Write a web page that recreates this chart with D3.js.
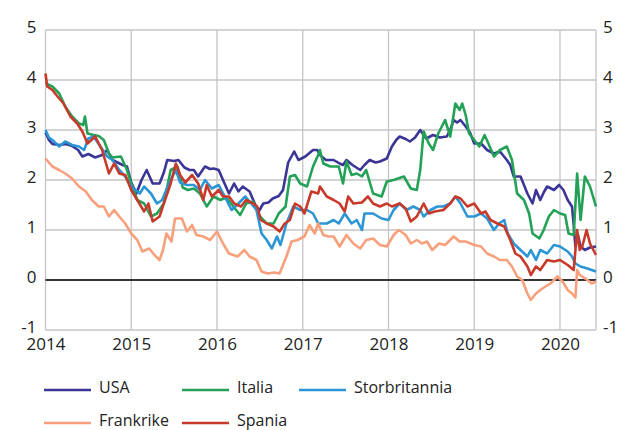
<!DOCTYPE html>
<html>
<head>
<meta charset="utf-8">
<script src="https://cdn.jsdelivr.net/npm/d3@7"></script>
<style>
  body { margin: 0; background: #fff; }
  svg { font-family: "Open Sans", sans-serif; }
  .tick text { fill: #222; font-size: 17px; }
  .legend text { fill: #222; font-size: 16px; }
</style>
</head>
<body>
<svg id="chart" width="617" height="430"></svg>
<script>

// years on x, percent on y
var yTicks = [-1, 0, 1, 2, 3, 4, 5];
var xTicks = [2014, 2015, 2016, 2017, 2018, 2019, 2020];
var names = ["USA", "Italia", "Storbritannia", "Frankrike", "Spania"];
var colors = ["#3a3596", "#23a257", "#2b95d5", "#f7a07b", "#c8392a"];

var usa = [[2014.00,2.95],[2014.04,2.8],[2014.08,2.72],[2014.16,2.7],[2014.24,2.72],[2014.31,2.68],[2014.38,2.6],[2014.43,2.47],[2014.5,2.52],[2014.58,2.45],[2014.66,2.5],[2014.72,2.6],[2014.78,2.4],[2014.84,2.35],[2014.9,2.3],[2014.95,2.27],[2015.0,1.95],[2015.06,1.73],[2015.12,2.0],[2015.18,2.2],[2015.25,1.93],[2015.33,1.93],[2015.38,2.15],[2015.42,2.4],[2015.5,2.38],[2015.55,2.4],[2015.62,2.25],[2015.68,2.2],[2015.73,2.2],[2015.78,2.07],[2015.86,2.27],[2015.92,2.22],[2015.96,2.23],[2016.02,2.2],[2016.07,2.0],[2016.14,1.73],[2016.2,1.93],[2016.25,1.77],[2016.3,1.87],[2016.38,1.77],[2016.44,1.53],[2016.48,1.35],[2016.54,1.53],[2016.6,1.55],[2016.65,1.63],[2016.72,1.68],[2016.77,1.8],[2016.83,2.35],[2016.9,2.57],[2016.95,2.4],[2017.03,2.47],[2017.12,2.6],[2017.17,2.6],[2017.2,2.5],[2017.27,2.4],[2017.36,2.4],[2017.43,2.33],[2017.47,2.3],[2017.51,2.4],[2017.58,2.3],[2017.67,2.2],[2017.72,2.3],[2017.78,2.4],[2017.85,2.35],[2017.9,2.37],[2017.98,2.43],[2018.04,2.67],[2018.09,2.8],[2018.13,2.87],[2018.2,2.82],[2018.25,2.77],[2018.31,2.85],[2018.37,3.0],[2018.44,2.83],[2018.52,2.9],[2018.6,2.85],[2018.68,2.87],[2018.72,3.0],[2018.76,3.2],[2018.8,3.15],[2018.84,3.2],[2018.9,3.07],[2018.95,2.95],[2019.0,2.73],[2019.08,2.73],[2019.15,2.6],[2019.23,2.53],[2019.3,2.57],[2019.38,2.4],[2019.42,2.3],[2019.46,2.07],[2019.54,2.07],[2019.58,1.9],[2019.62,1.73],[2019.68,1.53],[2019.72,1.8],[2019.77,1.6],[2019.81,1.75],[2019.85,1.87],[2019.93,1.8],[2019.99,1.9],[2020.04,1.8],[2020.09,1.6],[2020.14,1.47],[2020.16,1.1],[2020.18,0.67],[2020.21,0.9],[2020.24,0.67],[2020.29,0.6],[2020.35,0.65],[2020.42,0.67]];

var italia = [[2014.0,3.95],[2014.04,3.9],[2014.08,3.87],[2014.16,3.73],[2014.23,3.47],[2014.31,3.27],[2014.39,3.13],[2014.44,3.1],[2014.46,3.27],[2014.49,2.93],[2014.56,2.9],[2014.62,2.88],[2014.68,2.8],[2014.74,2.53],[2014.78,2.45],[2014.88,2.47],[2014.95,2.2],[2015.0,1.93],[2015.07,1.6],[2015.15,1.53],[2015.23,1.27],[2015.3,1.33],[2015.38,1.53],[2015.46,2.2],[2015.54,2.27],[2015.6,1.85],[2015.66,1.8],[2015.73,1.83],[2015.8,1.73],[2015.88,1.47],[2015.96,1.67],[2016.04,1.6],[2016.11,1.65],[2016.19,1.47],[2016.27,1.3],[2016.34,1.53],[2016.42,1.57],[2016.5,1.27],[2016.58,1.13],[2016.66,1.13],[2016.72,1.33],[2016.8,1.47],[2016.85,2.07],[2016.91,2.1],[2016.97,1.93],[2017.05,1.87],[2017.12,2.27],[2017.18,2.5],[2017.2,2.6],[2017.24,2.33],[2017.32,2.27],[2017.42,2.27],[2017.47,1.93],[2017.51,2.37],[2017.57,2.1],[2017.63,2.13],[2017.69,2.07],[2017.74,2.2],[2017.82,1.73],[2017.92,1.67],[2017.98,1.97],[2018.06,2.0],[2018.18,2.07],[2018.26,1.83],[2018.33,1.8],[2018.37,2.2],[2018.41,2.97],[2018.47,2.73],[2018.52,2.6],[2018.58,2.93],[2018.66,3.2],[2018.72,2.87],[2018.78,3.53],[2018.83,3.4],[2018.86,3.53],[2018.9,3.3],[2018.94,2.93],[2019.0,2.8],[2019.06,2.67],[2019.12,2.9],[2019.16,2.75],[2019.23,2.47],[2019.3,2.6],[2019.38,2.67],[2019.44,2.4],[2019.5,1.73],[2019.58,1.6],[2019.64,1.33],[2019.68,0.93],[2019.76,0.83],[2019.81,1.0],[2019.87,1.27],[2019.93,1.4],[2020.0,1.33],[2020.06,1.3],[2020.1,0.93],[2020.16,0.9],[2020.2,2.13],[2020.24,1.2],[2020.29,2.07],[2020.35,1.87],[2020.42,1.47]];

var storbritannia = [[2014.0,3.0],[2014.04,2.85],[2014.08,2.8],[2014.16,2.67],[2014.23,2.77],[2014.31,2.7],[2014.39,2.67],[2014.45,2.6],[2014.5,2.83],[2014.56,2.87],[2014.64,2.67],[2014.72,2.47],[2014.78,2.4],[2014.86,2.2],[2014.93,2.07],[2015.0,1.87],[2015.1,1.73],[2015.15,1.87],[2015.23,1.73],[2015.3,1.53],[2015.36,1.6],[2015.44,1.93],[2015.52,2.2],[2015.57,1.95],[2015.65,1.9],[2015.73,1.9],[2015.8,1.8],[2015.86,2.0],[2015.94,1.83],[2016.02,1.9],[2016.09,1.67],[2016.17,1.4],[2016.25,1.53],[2016.33,1.67],[2016.4,1.53],[2016.46,1.4],[2016.52,0.93],[2016.58,0.8],[2016.64,0.63],[2016.7,0.87],[2016.74,0.7],[2016.81,1.13],[2016.89,1.47],[2016.97,1.4],[2017.05,1.4],[2017.12,1.33],[2017.18,1.13],[2017.28,1.13],[2017.36,1.2],[2017.42,1.13],[2017.49,1.33],[2017.57,1.13],[2017.63,1.2],[2017.69,1.0],[2017.72,1.33],[2017.82,1.33],[2017.92,1.23],[2018.0,1.2],[2018.06,1.4],[2018.13,1.53],[2018.21,1.4],[2018.29,1.47],[2018.37,1.4],[2018.41,1.27],[2018.49,1.4],[2018.57,1.47],[2018.64,1.47],[2018.72,1.53],[2018.78,1.67],[2018.84,1.53],[2018.92,1.27],[2019.0,1.27],[2019.08,1.33],[2019.15,1.23],[2019.23,1.0],[2019.29,1.13],[2019.35,1.2],[2019.39,0.93],[2019.46,0.73],[2019.54,0.6],[2019.62,0.47],[2019.66,0.6],[2019.72,0.4],[2019.77,0.6],[2019.85,0.53],[2019.93,0.7],[2020.0,0.67],[2020.09,0.57],[2020.14,0.47],[2020.18,0.33],[2020.24,0.27],[2020.32,0.23],[2020.42,0.17]];

var frankrike = [[2014.0,2.43],[2014.08,2.27],[2014.16,2.2],[2014.23,2.13],[2014.31,2.03],[2014.39,1.87],[2014.47,1.77],[2014.54,1.6],[2014.62,1.47],[2014.68,1.47],[2014.74,1.27],[2014.8,1.4],[2014.86,1.27],[2014.93,1.13],[2015.0,0.93],[2015.07,0.8],[2015.13,0.57],[2015.21,0.63],[2015.27,0.5],[2015.33,0.4],[2015.37,0.6],[2015.41,0.93],[2015.47,0.77],[2015.51,1.23],[2015.59,1.23],[2015.65,0.97],[2015.71,1.1],[2015.76,0.9],[2015.84,0.87],[2015.92,0.8],[2016.0,0.97],[2016.07,0.73],[2016.14,0.53],[2016.24,0.47],[2016.32,0.6],[2016.38,0.47],[2016.46,0.4],[2016.52,0.17],[2016.59,0.13],[2016.67,0.15],[2016.73,0.13],[2016.81,0.47],[2016.87,0.77],[2016.94,0.8],[2017.02,0.87],[2017.08,1.1],[2017.14,0.93],[2017.18,1.13],[2017.24,0.9],[2017.3,0.87],[2017.36,0.87],[2017.43,0.67],[2017.51,0.9],[2017.59,0.73],[2017.67,0.63],[2017.74,0.8],[2017.82,0.83],[2017.9,0.7],[2017.98,0.67],[2018.06,0.9],[2018.12,1.0],[2018.2,0.9],[2018.26,0.73],[2018.33,0.8],[2018.39,0.73],[2018.45,0.77],[2018.51,0.6],[2018.59,0.73],[2018.66,0.7],[2018.76,0.87],[2018.83,0.77],[2018.9,0.77],[2019.0,0.7],[2019.08,0.67],[2019.15,0.53],[2019.23,0.47],[2019.3,0.4],[2019.38,0.4],[2019.44,0.27],[2019.5,0.07],[2019.56,0.0],[2019.62,-0.27],[2019.66,-0.4],[2019.72,-0.27],[2019.77,-0.2],[2019.83,-0.13],[2019.89,-0.07],[2019.97,0.07],[2020.03,-0.03],[2020.09,-0.2],[2020.14,-0.27],[2020.18,-0.35],[2020.2,0.2],[2020.23,0.1],[2020.26,0.07],[2020.32,0.0],[2020.37,-0.07],[2020.42,-0.03]];

var spania = [[2014.0,4.13],[2014.02,3.87],[2014.08,3.8],[2014.14,3.67],[2014.21,3.53],[2014.29,3.27],[2014.37,3.13],[2014.43,2.97],[2014.49,2.73],[2014.58,2.87],[2014.66,2.6],[2014.74,2.13],[2014.8,2.33],[2014.86,2.13],[2014.93,2.1],[2015.0,1.8],[2015.07,1.6],[2015.15,1.37],[2015.2,1.53],[2015.25,1.17],[2015.33,1.27],[2015.38,1.53],[2015.46,1.93],[2015.52,2.33],[2015.57,2.1],[2015.63,1.95],[2015.71,2.1],[2015.78,1.93],[2015.84,1.6],[2015.88,1.9],[2015.94,1.67],[2016.02,1.8],[2016.07,1.67],[2016.14,1.67],[2016.2,1.53],[2016.28,1.47],[2016.34,1.6],[2016.42,1.53],[2016.47,1.47],[2016.51,1.2],[2016.58,1.13],[2016.66,1.07],[2016.73,0.97],[2016.79,1.13],[2016.85,1.2],[2016.91,1.53],[2016.97,1.47],[2017.02,1.33],[2017.1,1.77],[2017.18,1.73],[2017.2,1.87],[2017.28,1.67],[2017.36,1.6],[2017.43,1.53],[2017.49,1.37],[2017.53,1.67],[2017.59,1.53],[2017.69,1.55],[2017.76,1.67],[2017.82,1.53],[2017.9,1.47],[2017.98,1.53],[2018.04,1.47],[2018.13,1.53],[2018.2,1.43],[2018.26,1.17],[2018.33,1.27],[2018.41,1.53],[2018.47,1.33],[2018.54,1.37],[2018.64,1.4],[2018.72,1.53],[2018.78,1.67],[2018.84,1.63],[2018.92,1.47],[2019.0,1.53],[2019.08,1.33],[2019.13,1.37],[2019.19,1.2],[2019.27,1.13],[2019.35,1.07],[2019.42,0.8],[2019.48,0.53],[2019.54,0.47],[2019.62,0.27],[2019.66,0.1],[2019.72,0.27],[2019.77,0.2],[2019.85,0.4],[2019.93,0.37],[2020.0,0.4],[2020.09,0.3],[2020.16,0.2],[2020.2,1.0],[2020.23,0.6],[2020.26,0.67],[2020.31,1.0],[2020.35,0.73],[2020.42,0.5]];

var series = [usa, italia, storbritannia, frankrike, spania];

var svg = d3.select("#chart");
// plot box
var pLeft = 45.5, pRight = 596, pTop = 30, pBottom = 330;

var x = d3.scaleLinear().domain([2014, 2020.42]).range([pLeft, pRight]);
var y = d3.scaleLinear().domain([-1, 5]).range([pBottom, pTop]);

var grid = svg.append("g").attr("stroke", "#c4c4c4").attr("stroke-width", 1.3);
grid.selectAll(".hg").data(yTicks).enter().append("line")
    .attr("x1", pLeft).attr("x2", pRight)
    .attr("y1", function(d){ return y(d); }).attr("y2", function(d){ return y(d); });
grid.selectAll(".vg").data(xTicks.concat([2020.42])).enter().append("line")
    .attr("y1", pTop).attr("y2", pBottom)
    .attr("x1", function(d){ return x(d); }).attr("x2", function(d){ return x(d); });

// zero line
svg.append("line").attr("x1", pLeft).attr("x2", pRight)
    .attr("y1", y(0)).attr("y2", y(0))
    .attr("stroke", "#000").attr("stroke-width", 1.5);

var line = d3.line()
    .x(function(d){ return x(d[0]); })
    .y(function(d){ return y(d[1]); });

svg.append("g").selectAll("path").data(series).enter().append("path")
    .attr("d", line)
    .attr("fill", "none")
    .attr("stroke", function(d, i){ return colors[i]; })
    .attr("stroke-width", 2.6)
    .attr("stroke-linejoin", "round");

// axes, labels only
var yLeft = svg.append("g").attr("transform", "translate(" + pLeft + ",-3)")
    .call(d3.axisLeft(y).tickValues(yTicks).tickSize(0).tickPadding(9).tickFormat(d3.format("d")));
var yRight = svg.append("g").attr("transform", "translate(" + pRight + ",-3)")
    .call(d3.axisRight(y).tickValues(yTicks).tickSize(0).tickPadding(7).tickFormat(d3.format("d")));
var xAxis = svg.append("g").attr("transform", "translate(0," + pBottom + ")")
    .call(d3.axisBottom(x).tickValues(xTicks).tickSize(0).tickPadding(8).tickFormat(d3.format("d")));
[yLeft, yRight, xAxis].forEach(function(a){
    a.select(".domain").remove();
    a.attr("font-family", null).attr("font-size", null);
});
// plain hyphen for minus, like the original
yLeft.selectAll("text").text(function(d){ return String(d); });
yRight.selectAll("text").text(function(d){ return String(d); });

// legend
var legPos = [[44, 390], [182, 390], [299, 390], [44, 423], [182, 423]];
var leg = svg.append("g").attr("class", "legend").selectAll("g").data(names).enter().append("g")
    .attr("transform", function(d, i){ return "translate(" + legPos[i][0] + "," + legPos[i][1] + ")"; });
leg.append("line").attr("x1", 0).attr("x2", 47).attr("y1", 0).attr("y2", 0)
    .attr("stroke", function(d, i){ return colors[i]; }).attr("stroke-width", 2.6);
leg.append("text").attr("x", 55).attr("y", 3).text(function(d){ return d; });

</script>
</body>
</html>
